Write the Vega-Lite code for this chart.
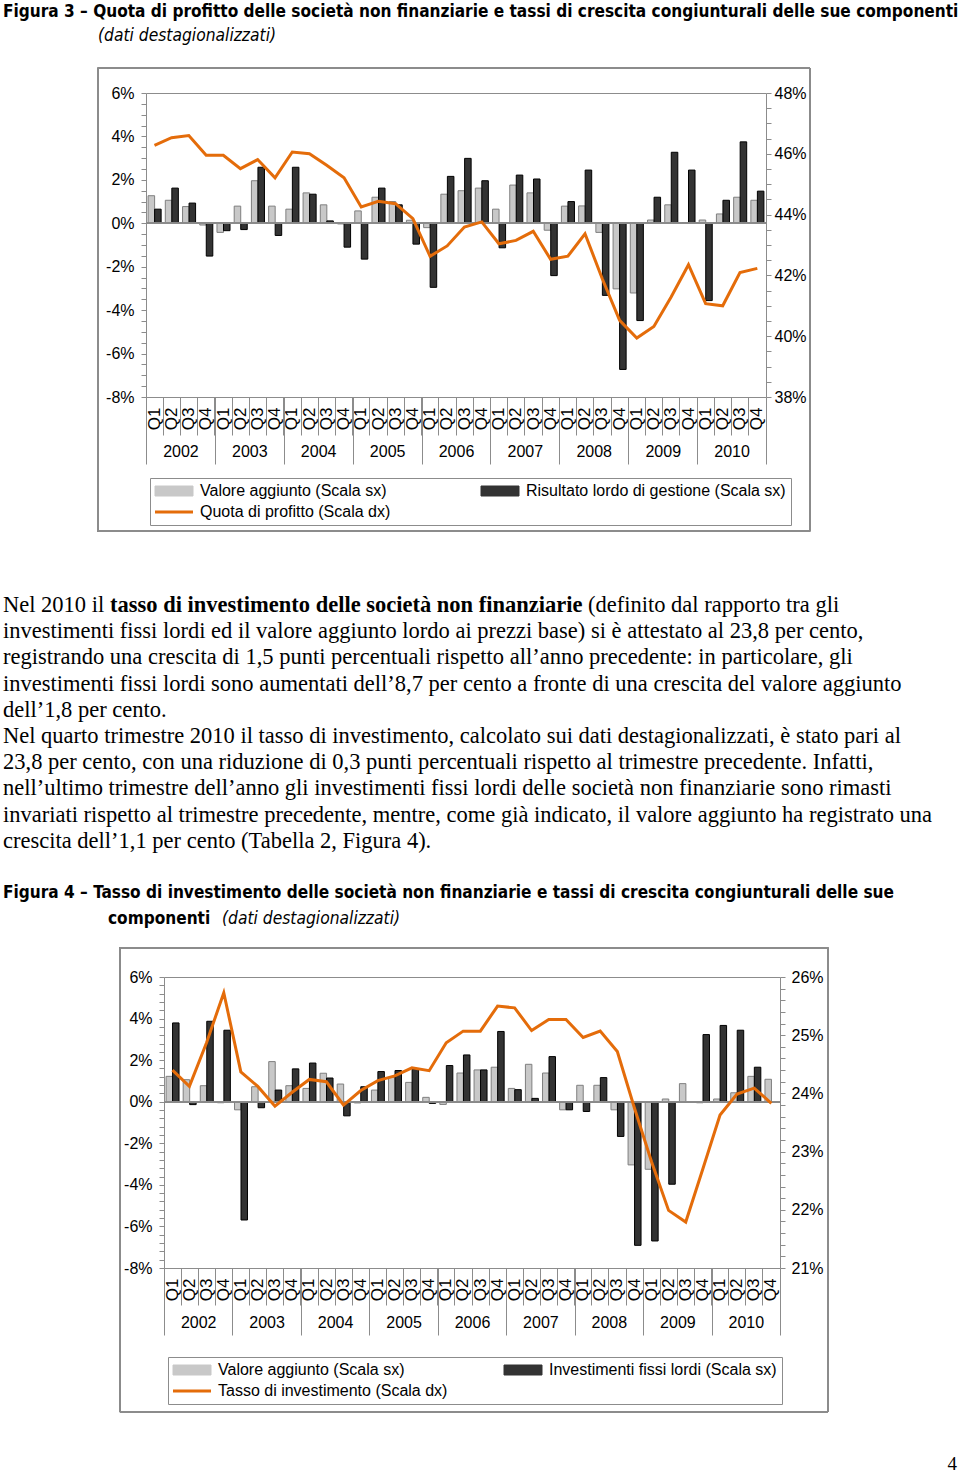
{
  "$schema": "https://vega.github.io/schema/vega-lite/v6.json",
  "background": "white",
  "padding": 0,
  "spacing": 0,
  "resolve": {
    "scale": {"x": "independent", "y": "independent", "color": "independent", "stroke": "independent", "xOffset": "independent"},
    "legend": {"color": "independent", "stroke": "independent"},
    "axis": {"x": "independent", "y": "independent"}
  },
  "config": {
    "view": {"stroke": "#8c8c8c", "strokeWidth": 1},
    "axis": {"labelFont": "Liberation Sans", "labelFontSize": 16, "labelColor": "#000000", "tickColor": "#8c8c8c", "tickWidth": 1, "domain": false, "grid": false, "labelOverlap": false, "labelFlush": false, "labelBound": false},
    "legend": {"labelFont": "Liberation Sans", "labelFontSize": 16, "labelColor": "#000000", "labelLimit": 600},
    "text": {"color": "#000000"}
  },
  "vconcat": [
    {
      "width": 958, "height": 67, "view": {"stroke": null},
      "encoding": {
        "y": {"field": "line", "type": "quantitative", "scale": {"domain": [1, 2], "range": [12, 36], "nice": false, "zero": false}, "axis": null},
        "text": {"field": "text"}
      },
      "layer": [
        {"data": {"values": [{"line": 1, "text": "Figura 3 – Quota di profitto delle società non finanziarie e tassi di crescita congiunturali delle sue componenti"}]},
         "mark": {"type": "text", "align": "left", "baseline": "middle", "font": "DejaVu Sans Condensed", "fontSize": 17.1, "fontWeight": "bold"},
         "encoding": {"x": {"value": 3}}},
        {"data": {"values": [{"line": 2, "text": "(dati destagionalizzati)"}]},
         "mark": {"type": "text", "align": "left", "baseline": "middle", "font": "DejaVu Sans Condensed", "fontSize": 17.3, "fontStyle": "italic"},
         "encoding": {"x": {"value": 98}}}
      ]
    },
    {
      "spacing": 0,
      "hconcat": [
        {"width": 96, "height": 10, "view": {"stroke": null}, "data": {"values": [{}]}, "mark": {"type": "text", "text": ""}},
        {
          "width": 620, "height": 304,
          "data": {"values": [
            {"date": "2002-01-01", "va": 1.27, "rlg": 0.65, "quota": 46.28},
            {"date": "2002-04-01", "va": 1.06, "rlg": 1.62, "quota": 46.53},
            {"date": "2002-07-01", "va": 0.77, "rlg": 0.93, "quota": 46.60},
            {"date": "2002-10-01", "va": -0.08, "rlg": -1.51, "quota": 45.95},
            {"date": "2003-01-01", "va": -0.42, "rlg": -0.34, "quota": 45.95},
            {"date": "2003-04-01", "va": 0.79, "rlg": -0.29, "quota": 45.51},
            {"date": "2003-07-01", "va": 1.96, "rlg": 2.58, "quota": 45.81},
            {"date": "2003-10-01", "va": 0.79, "rlg": -0.56, "quota": 45.21},
            {"date": "2004-01-01", "va": 0.65, "rlg": 2.58, "quota": 46.06},
            {"date": "2004-04-01", "va": 1.40, "rlg": 1.34, "quota": 46.00},
            {"date": "2004-07-01", "va": 0.85, "rlg": 0.11, "quota": 45.62},
            {"date": "2004-10-01", "va": -0.03, "rlg": -1.10, "quota": 45.21},
            {"date": "2005-01-01", "va": 0.57, "rlg": -1.65, "quota": 44.25},
            {"date": "2005-04-01", "va": 1.20, "rlg": 1.62, "quota": 44.44},
            {"date": "2005-07-01", "va": 1.00, "rlg": 0.85, "quota": 44.36},
            {"date": "2005-10-01", "va": 0.14, "rlg": -0.96, "quota": 43.87},
            {"date": "2006-01-01", "va": -0.20, "rlg": -2.95, "quota": 42.63},
            {"date": "2006-04-01", "va": 1.34, "rlg": 2.16, "quota": 42.97},
            {"date": "2006-07-01", "va": 1.50, "rlg": 2.99, "quota": 43.59},
            {"date": "2006-10-01", "va": 1.62, "rlg": 1.96, "quota": 43.76},
            {"date": "2007-01-01", "va": 0.65, "rlg": -1.13, "quota": 43.04},
            {"date": "2007-04-01", "va": 1.76, "rlg": 2.22, "quota": 43.15},
            {"date": "2007-07-01", "va": 1.40, "rlg": 2.04, "quota": 43.45},
            {"date": "2007-10-01", "va": -0.32, "rlg": -2.41, "quota": 42.53},
            {"date": "2008-01-01", "va": 0.79, "rlg": 1.00, "quota": 42.63},
            {"date": "2008-04-01", "va": 0.80, "rlg": 2.45, "quota": 43.37},
            {"date": "2008-07-01", "va": -0.42, "rlg": -3.32, "quota": 41.89},
            {"date": "2008-10-01", "va": -3.02, "rlg": -6.73, "quota": 40.52},
            {"date": "2009-01-01", "va": -3.21, "rlg": -4.48, "quota": 39.94},
            {"date": "2009-04-01", "va": 0.15, "rlg": 1.20, "quota": 40.32},
            {"date": "2009-07-01", "va": 0.85, "rlg": 3.27, "quota": 41.29},
            {"date": "2009-10-01", "va": 0.03, "rlg": 2.45, "quota": 42.35},
            {"date": "2010-01-01", "va": 0.15, "rlg": -3.56, "quota": 41.07},
            {"date": "2010-04-01", "va": 0.43, "rlg": 1.06, "quota": 41.00},
            {"date": "2010-07-01", "va": 1.20, "rlg": 3.75, "quota": 42.09},
            {"date": "2010-10-01", "va": 1.06, "rlg": 1.48, "quota": 42.23}
          ]},
          "resolve": {"scale": {"x": "independent", "y": "independent"}},
          "layer": [
            {
              "layer": [
                {
                  "transform": [{"fold": ["va", "rlg"], "as": ["key", "value"]}],
                  "mark": {"type": "bar", "strokeWidth": 1},
                  "encoding": {
                    "x": {"field": "date", "timeUnit": "utcyearquarter", "type": "ordinal",
                          "scale": {"paddingInner": 0, "paddingOuter": 0},
                          "axis": {"orient": "bottom", "title": null, "labelExpr": "'Q' + utcquarter(datum.value)", "labelAngle": -90, "labelFontSize": 17, "tickSize": 38, "labelPadding": -28, "bandPosition": 0, "labelOverlap": false}},
                    "xOffset": {"field": "key", "type": "nominal", "scale": {"domain": ["va", "rlg"], "paddingOuter": 0.32, "paddingInner": 0}},
                    "y": {"field": "value", "type": "quantitative", "scale": {"domain": [-8, 6], "nice": false, "zero": false},
                          "axis": {"orient": "left", "title": null, "tickCount": 1000, "values": [-8,-7.5,-7,-6.5,-6,-5.5,-5,-4.5,-4,-3.5,-3,-2.5,-2,-1.5,-1,-0.5,0,0.5,1,1.5,2,2.5,3,3.5,4,4.5,5,5.5,6], "labelExpr": "datum.value % 2 === 0 ? datum.value + '%' : ''", "tickSize": 5, "labelPadding": 7, "labelOverlap": false}},
                    "color": {"field": "key", "type": "nominal",
                              "scale": {"domain": ["va", "rlg", "quota"], "range": ["#c8c8c8", "#333333", "#E46C0A"]},
                              "legend": {"orient": "none", "legendX": 150, "legendY": 385, "columns": 2, "direction": "horizontal", "columnPadding": 88, "rowPadding": 5, "padding": 5, "strokeColor": "#8c8c8c", "fillColor": "white", "title": null, "symbolSize": 100, "symbolStrokeWidth": 1, "labelOffset": 29,
                                         "labelExpr": "datum.value === 'va' ? 'Valore aggiunto (Scala sx)' : datum.value === 'rlg' ? 'Risultato lordo di gestione (Scala sx)' : 'Quota di profitto (Scala dx)'",
                                         "encode": {"symbols": {"update": {
                                           "shape": {"signal": "datum.value === 'quota' ? 'M-1.6,0H6' : 'M-1.6,-1H6V1H-1.6Z'"},
                                           "fill": {"signal": "datum.value === 'quota' ? 'transparent' : (datum.value === 'va' ? '#c8c8c8' : '#333333')"},
                                           "stroke": {"signal": "datum.value === 'quota' ? '#E46C0A' : (datum.value === 'va' ? '#7f7f7f' : '#000000')"},
                                           "strokeWidth": {"signal": "datum.value === 'quota' ? 3 : 1"},
                                           "opacity": {"value": 1}, "fillOpacity": {"value": 1}, "strokeOpacity": {"value": 1}}}}}},
                    "stroke": {"field": "key", "type": "nominal", "scale": {"domain": ["va", "rlg"], "range": ["#7f7f7f", "#000000"]}, "legend": null}
                  }
                },
                {"mark": {"type": "rule", "color": "#8c8c8c", "strokeWidth": 1}, "encoding": {"y": {"datum": 0, "type": "quantitative"}}}
              ]
            },
            {
              "layer": [
                {
                  "mark": {"type": "line", "strokeWidth": 3},
                  "encoding": {
                    "x": {"field": "date", "timeUnit": "utcyearquarter", "type": "temporal", "bandPosition": 0.5,
                          "scale": {"type": "utc", "domain": [{"year": 2002, "month": 1, "date": 1, "utc": true}, {"year": 2011, "month": 1, "date": 1, "utc": true}]},
                          "axis": {"orient": "bottom", "title": null, "tickCount": 1000,
                                   "values": [{"year": 2002, "month": 1, "date": 1, "utc": true}, {"year": 2003, "month": 1, "date": 1, "utc": true}, {"year": 2004, "month": 1, "date": 1, "utc": true}, {"year": 2005, "month": 1, "date": 1, "utc": true}, {"year": 2006, "month": 1, "date": 1, "utc": true}, {"year": 2007, "month": 1, "date": 1, "utc": true}, {"year": 2008, "month": 1, "date": 1, "utc": true}, {"year": 2009, "month": 1, "date": 1, "utc": true}, {"year": 2010, "month": 1, "date": 1, "utc": true}, {"year": 2011, "month": 1, "date": 1, "utc": true}],
                                   "labelExpr": "utcyear(datum.value) > 2010 ? '' : '' + utcyear(datum.value)",
                                   "labelOffset": 34.44, "labelAngle": 0, "labelAlign": "center", "labelBaseline": "middle", "tickSize": 67, "labelPadding": -13, "labelOverlap": false}},
                    "y": {"field": "quota", "type": "quantitative", "scale": {"domain": [38, 48], "nice": false, "zero": false},
                          "axis": {"orient": "right", "title": null, "tickCount": 1000, "values": [38,38.5,39,39.5,40,40.5,41,41.5,42,42.5,43,43.5,44,44.5,45,45.5,46,46.5,47,47.5,48], "labelExpr": "datum.value % 2 === 0 ? datum.value + '%' : ''", "tickSize": 5, "labelPadding": 3, "labelOverlap": false}},
                    "color": {"datum": "quota", "type": "nominal"}
                  }
                },
                {
                  "mark": {"type": "rect", "fill": "white", "fillOpacity": 0, "stroke": "#8c8c8c", "strokeWidth": 1, "clip": false},
                  "encoding": {
                    "x": {"datum": {"year": 2001, "month": 4, "date": 21, "utc": true}, "type": "temporal"},
                    "x2": {"datum": {"year": 2011, "month": 8, "date": 22, "utc": true}},
                    "y": {"datum": 48.82, "type": "quantitative"},
                    "y2": {"datum": 33.59}
                  }
                }
              ]
            }
          ]
        }
      ]
    },
    {
      "width": 958, "height": 413, "view": {"stroke": null},
      "encoding": {
        "y": {"field": "line", "type": "quantitative", "scale": {"domain": [1, 13], "range": [72, 386.4], "nice": false, "zero": false}, "axis": null},
        "text": {"field": "text"}
      },
      "layer": [
        {"data": {"values": [
          {"line": 1, "text": "Nel 2010 il"},
          {"line": 2, "text": "investimenti fissi lordi ed il valore aggiunto lordo ai prezzi base) si è attestato al 23,8 per cento,"},
          {"line": 3, "text": "registrando una crescita di 1,5 punti percentuali rispetto all’anno precedente: in particolare, gli"},
          {"line": 4, "text": "investimenti fissi lordi sono aumentati dell’8,7 per cento a fronte di una crescita del valore aggiunto"},
          {"line": 5, "text": "dell’1,8 per cento."},
          {"line": 6, "text": "Nel quarto trimestre 2010 il tasso di investimento, calcolato sui dati destagionalizzati, è stato pari al"},
          {"line": 7, "text": "23,8 per cento, con una riduzione di 0,3 punti percentuali rispetto al trimestre precedente. Infatti,"},
          {"line": 8, "text": "nell’ultimo trimestre dell’anno gli investimenti fissi lordi delle società non finanziarie sono rimasti"},
          {"line": 9, "text": "invariati rispetto al trimestre precedente, mentre, come già indicato, il valore aggiunto ha registrato una"},
          {"line": 10, "text": "crescita dell’1,1 per cento (Tabella 2, Figura 4)."}
         ]},
         "mark": {"type": "text", "align": "left", "baseline": "middle", "font": "Liberation Serif", "fontSize": 22.5},
         "encoding": {"x": {"value": 3}}},
        {"data": {"values": [{"line": 1, "text": "tasso di investimento delle società non finanziarie"}]},
         "mark": {"type": "text", "align": "left", "baseline": "middle", "font": "Liberation Serif", "fontSize": 22.5, "fontWeight": "bold"},
         "encoding": {"x": {"value": 110}}},
        {"data": {"values": [{"line": 1, "text": "(definito dal rapporto tra gli"}]},
         "mark": {"type": "text", "align": "left", "baseline": "middle", "font": "Liberation Serif", "fontSize": 22.5},
         "encoding": {"x": {"value": 588}}},
        {"data": {"values": [{"line": 12, "text": "Figura 4 – Tasso di investimento delle società non finanziarie e tassi di crescita congiunturali delle sue"}]},
         "mark": {"type": "text", "align": "left", "baseline": "middle", "font": "DejaVu Sans Condensed", "fontSize": 17.1, "fontWeight": "bold"},
         "encoding": {"x": {"value": 3}}},
        {"data": {"values": [{"line": 13, "text": "componenti"}]},
         "mark": {"type": "text", "align": "left", "baseline": "middle", "font": "DejaVu Sans Condensed", "fontSize": 17.1, "fontWeight": "bold"},
         "encoding": {"x": {"value": 108}}},
        {"data": {"values": [{"line": 13, "text": "(dati destagionalizzati)"}]},
         "mark": {"type": "text", "align": "left", "baseline": "middle", "font": "DejaVu Sans Condensed", "fontSize": 17.3, "fontStyle": "italic"},
         "encoding": {"x": {"value": 222}}}
      ]
    },
    {
      "spacing": 0,
      "hconcat": [
        {"width": 118, "height": 10, "view": {"stroke": null}, "data": {"values": [{}]}, "mark": {"type": "text", "text": ""}},
        {
          "width": 616, "height": 291,
          "data": {"values": [
            {"date": "2002-01-01", "va": 1.22, "ifl": 3.79, "tasso": 24.40},
            {"date": "2002-04-01", "va": 1.06, "ifl": -0.14, "tasso": 24.12},
            {"date": "2002-07-01", "va": 0.77, "ifl": 3.87, "tasso": 24.87},
            {"date": "2002-10-01", "va": -0.05, "ifl": 3.44, "tasso": 25.73},
            {"date": "2003-01-01", "va": -0.39, "ifl": -5.69, "tasso": 24.37},
            {"date": "2003-04-01", "va": 0.72, "ifl": -0.29, "tasso": 24.12},
            {"date": "2003-07-01", "va": 1.93, "ifl": 0.56, "tasso": 23.78},
            {"date": "2003-10-01", "va": 0.77, "ifl": 1.58, "tasso": 24.02},
            {"date": "2004-01-01", "va": 0.64, "ifl": 1.86, "tasso": 24.24},
            {"date": "2004-04-01", "va": 1.37, "ifl": 1.14, "tasso": 24.20},
            {"date": "2004-07-01", "va": 0.85, "ifl": -0.68, "tasso": 23.80},
            {"date": "2004-10-01", "va": -0.06, "ifl": 0.72, "tasso": 24.05},
            {"date": "2005-01-01", "va": 0.56, "ifl": 1.45, "tasso": 24.22},
            {"date": "2005-04-01", "va": 1.17, "ifl": 1.50, "tasso": 24.30},
            {"date": "2005-07-01", "va": 0.93, "ifl": 1.58, "tasso": 24.44},
            {"date": "2005-10-01", "va": 0.21, "ifl": -0.08, "tasso": 24.39},
            {"date": "2006-01-01", "va": -0.13, "ifl": 1.74, "tasso": 24.87},
            {"date": "2006-04-01", "va": 1.38, "ifl": 2.25, "tasso": 25.07},
            {"date": "2006-07-01", "va": 1.53, "ifl": 1.53, "tasso": 25.07},
            {"date": "2006-10-01", "va": 1.66, "ifl": 3.38, "tasso": 25.50},
            {"date": "2007-01-01", "va": 0.64, "ifl": 0.58, "tasso": 25.47},
            {"date": "2007-04-01", "va": 1.80, "ifl": 0.16, "tasso": 25.08},
            {"date": "2007-07-01", "va": 1.38, "ifl": 2.17, "tasso": 25.27},
            {"date": "2007-10-01", "va": -0.39, "ifl": -0.39, "tasso": 25.27},
            {"date": "2008-01-01", "va": 0.79, "ifl": -0.47, "tasso": 24.96},
            {"date": "2008-04-01", "va": 0.79, "ifl": 1.16, "tasso": 25.07},
            {"date": "2008-07-01", "va": -0.39, "ifl": -1.67, "tasso": 24.72},
            {"date": "2008-10-01", "va": -3.04, "ifl": -6.91, "tasso": 23.74},
            {"date": "2009-01-01", "va": -3.25, "ifl": -6.70, "tasso": 22.82},
            {"date": "2009-04-01", "va": 0.13, "ifl": -3.97, "tasso": 21.99},
            {"date": "2009-07-01", "va": 0.87, "ifl": 0.00, "tasso": 21.79},
            {"date": "2009-10-01", "va": -0.05, "ifl": 3.23, "tasso": 22.71},
            {"date": "2010-01-01", "va": 0.13, "ifl": 3.67, "tasso": 23.63},
            {"date": "2010-04-01", "va": 0.43, "ifl": 3.44, "tasso": 23.99},
            {"date": "2010-07-01", "va": 1.22, "ifl": 1.66, "tasso": 24.09},
            {"date": "2010-10-01", "va": 1.08, "ifl": 0.00, "tasso": 23.83}
          ]},
          "resolve": {"scale": {"x": "independent", "y": "independent"}},
          "layer": [
            {
              "layer": [
                {
                  "transform": [{"fold": ["va", "ifl"], "as": ["key", "value"]}],
                  "mark": {"type": "bar", "strokeWidth": 1},
                  "encoding": {
                    "x": {"field": "date", "timeUnit": "utcyearquarter", "type": "ordinal",
                          "scale": {"paddingInner": 0, "paddingOuter": 0},
                          "axis": {"orient": "bottom", "title": null, "labelExpr": "'Q' + utcquarter(datum.value)", "labelAngle": -90, "labelFontSize": 17, "tickSize": 37, "labelPadding": -27, "bandPosition": 0, "labelOverlap": false}},
                    "xOffset": {"field": "key", "type": "nominal", "scale": {"domain": ["va", "ifl"], "paddingOuter": 0.32, "paddingInner": 0}},
                    "y": {"field": "value", "type": "quantitative", "scale": {"domain": [-8, 6], "nice": false, "zero": false},
                          "axis": {"orient": "left", "title": null, "tickCount": 1000, "values": [-8,-7.6,-7.2,-6.8,-6.4,-6,-5.6,-5.2,-4.8,-4.4,-4,-3.6,-3.2,-2.8,-2.4,-2,-1.6,-1.2,-0.8,-0.4,0,0.4,0.8,1.2,1.6,2,2.4,2.8,3.2,3.6,4,4.4,4.8,5.2,5.6,6], "labelExpr": "abs(datum.value - 2 * round(datum.value / 2)) < 0.01 ? round(datum.value) + '%' : ''", "tickSize": 5, "labelPadding": 7, "labelOverlap": false}},
                    "color": {"field": "key", "type": "nominal",
                              "scale": {"domain": ["va", "ifl", "tasso"], "range": ["#c8c8c8", "#333333", "#E46C0A"]},
                              "legend": {"orient": "none", "legendX": 168, "legendY": 380, "columns": 2, "direction": "horizontal", "columnPadding": 54, "rowPadding": 5, "padding": 5, "strokeColor": "#8c8c8c", "fillColor": "white", "title": null, "symbolSize": 100, "symbolStrokeWidth": 1, "labelOffset": 29,
                                         "labelExpr": "datum.value === 'va' ? 'Valore aggiunto (Scala sx)' : datum.value === 'ifl' ? 'Investimenti fissi lordi (Scala sx)' : 'Tasso di investimento (Scala dx)'",
                                         "encode": {"symbols": {"update": {
                                           "shape": {"signal": "datum.value === 'tasso' ? 'M-1.6,0H6' : 'M-1.6,-1H6V1H-1.6Z'"},
                                           "fill": {"signal": "datum.value === 'tasso' ? 'transparent' : (datum.value === 'va' ? '#c8c8c8' : '#333333')"},
                                           "stroke": {"signal": "datum.value === 'tasso' ? '#E46C0A' : (datum.value === 'va' ? '#7f7f7f' : '#000000')"},
                                           "strokeWidth": {"signal": "datum.value === 'tasso' ? 3 : 1"},
                                           "opacity": {"value": 1}, "fillOpacity": {"value": 1}, "strokeOpacity": {"value": 1}}}}}},
                    "stroke": {"field": "key", "type": "nominal", "scale": {"domain": ["va", "ifl"], "range": ["#7f7f7f", "#000000"]}, "legend": null}
                  }
                },
                {"mark": {"type": "rule", "color": "#8c8c8c", "strokeWidth": 1}, "encoding": {"y": {"datum": 0, "type": "quantitative"}}}
              ]
            },
            {
              "layer": [
                {
                  "mark": {"type": "line", "strokeWidth": 3},
                  "encoding": {
                    "x": {"field": "date", "timeUnit": "utcyearquarter", "type": "temporal", "bandPosition": 0.5,
                          "scale": {"type": "utc", "domain": [{"year": 2002, "month": 1, "date": 1, "utc": true}, {"year": 2011, "month": 1, "date": 1, "utc": true}]},
                          "axis": {"orient": "bottom", "title": null, "tickCount": 1000,
                                   "values": [{"year": 2002, "month": 1, "date": 1, "utc": true}, {"year": 2003, "month": 1, "date": 1, "utc": true}, {"year": 2004, "month": 1, "date": 1, "utc": true}, {"year": 2005, "month": 1, "date": 1, "utc": true}, {"year": 2006, "month": 1, "date": 1, "utc": true}, {"year": 2007, "month": 1, "date": 1, "utc": true}, {"year": 2008, "month": 1, "date": 1, "utc": true}, {"year": 2009, "month": 1, "date": 1, "utc": true}, {"year": 2010, "month": 1, "date": 1, "utc": true}, {"year": 2011, "month": 1, "date": 1, "utc": true}],
                                   "labelExpr": "utcyear(datum.value) > 2010 ? '' : '' + utcyear(datum.value)",
                                   "labelOffset": 34.22, "labelAngle": 0, "labelAlign": "center", "labelBaseline": "middle", "tickSize": 67, "labelPadding": -13, "labelOverlap": false}},
                    "y": {"field": "tasso", "type": "quantitative", "scale": {"domain": [21, 26], "nice": false, "zero": false},
                          "axis": {"orient": "right", "title": null, "tickCount": 1000, "values": [21,21.2,21.4,21.6,21.8,22,22.2,22.4,22.6,22.8,23,23.2,23.4,23.6,23.8,24,24.2,24.4,24.6,24.8,25,25.2,25.4,25.6,25.8,26], "labelExpr": "abs(datum.value - round(datum.value)) < 0.01 ? round(datum.value) + '%' : ''", "tickSize": 5, "labelPadding": 6, "labelOverlap": false}},
                    "color": {"datum": "tasso", "type": "nominal"}
                  }
                },
                {
                  "mark": {"type": "rect", "fill": "white", "fillOpacity": 0, "stroke": "#8c8c8c", "strokeWidth": 1, "clip": false},
                  "encoding": {
                    "x": {"datum": {"year": 2001, "month": 5, "date": 11, "utc": true}, "type": "temporal"},
                    "x2": {"datum": {"year": 2011, "month": 9, "date": 14, "utc": true}},
                    "y": {"datum": 26.5, "type": "quantitative"},
                    "y2": {"datum": 18.53}
                  }
                }
              ]
            }
          ]
        }
      ]
    },
    {
      "width": 958, "height": 62, "view": {"stroke": null},
      "data": {"values": [{"text": "4"}]},
      "mark": {"type": "text", "align": "right", "baseline": "middle", "font": "Liberation Serif", "fontSize": 19},
      "encoding": {"x": {"value": 957}, "y": {"value": 51}, "text": {"field": "text"}}
    }
  ]
}
